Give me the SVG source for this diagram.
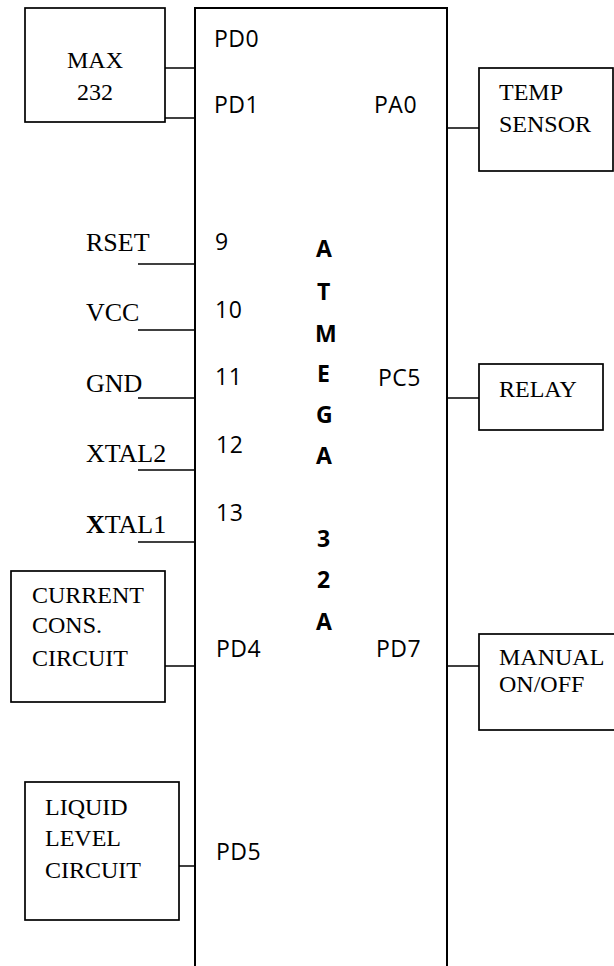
<svg xmlns="http://www.w3.org/2000/svg" width="614" height="966" viewBox="0 0 614 966">
<style>
.box{fill:none;stroke:#000;stroke-width:1.7}
.chip{fill:none;stroke:#000;stroke-width:2}
.wire{stroke:#000;stroke-width:1.5;fill:none}
.t{font-family:"Liberation Serif","Times New Roman",serif;font-size:24px;fill:#000}
.p{font-family:"Liberation Serif","Times New Roman",serif;font-size:26px;fill:#000}
.c{font-family:"Open Sans","Liberation Sans",sans-serif;font-size:23px;letter-spacing:0.5px;fill:#000}
.b{font-family:"Open Sans","Liberation Sans",sans-serif;font-size:23px;font-weight:bold;fill:#000}
</style>
<rect width="614" height="966" fill="#fff"/>
<g id="connectors">
<line class="wire" x1="165" y1="68" x2="195" y2="68"/>
<line class="wire" x1="165" y1="118" x2="195" y2="118"/>
<line class="wire" x1="447" y1="128" x2="479" y2="128"/>
<line class="wire" x1="138" y1="264" x2="195" y2="264"/>
<line class="wire" x1="138" y1="330" x2="195" y2="330"/>
<line class="wire" x1="138" y1="398" x2="195" y2="398"/>
<line class="wire" x1="138" y1="470" x2="195" y2="470"/>
<line class="wire" x1="138" y1="542" x2="195" y2="542"/>
<line class="wire" x1="447" y1="398" x2="479" y2="398"/>
<line class="wire" x1="165" y1="666" x2="195" y2="666"/>
<line class="wire" x1="447" y1="666" x2="479" y2="666"/>
<line class="wire" x1="179" y1="866" x2="195" y2="866"/>
</g>
<g id="chip">
<path class="chip" d="M195,968 V8 H447 V968"/>
<text class="c" x="214" y="47">PD0</text>
<text class="c" x="214" y="113">PD1</text>
<text class="c" x="215" y="250">9</text>
<text class="c" x="215" y="318">10</text>
<text class="c" x="215" y="385">11</text>
<text class="c" x="216" y="453">12</text>
<text class="c" x="216" y="521">13</text>
<text class="c" x="216" y="657">PD4</text>
<text class="c" x="216" y="860">PD5</text>
<text class="c" x="374" y="113">PA0</text>
<text class="c" x="378" y="386">PC5</text>
<text class="c" x="376" y="657">PD7</text>
<text class="b" x="316" y="257">A</text>
<text class="b" x="317" y="300">T</text>
<text class="b" x="315" y="342">M</text>
<text class="b" x="317" y="382">E</text>
<text class="b" x="316" y="423">G</text>
<text class="b" x="316" y="464">A</text>
<text class="b" x="317" y="547">3</text>
<text class="b" x="317" y="588">2</text>
<text class="b" x="316" y="630">A</text>
</g>
<g id="max232">
<rect class="box" x="25" y="8" width="140" height="114"/>
<text class="t" x="95" y="68" text-anchor="middle">MAX</text>
<text class="t" x="95" y="100" text-anchor="middle">232</text>
</g>
<g id="temp-sensor">
<rect class="box" x="479" y="68" width="134" height="103"/>
<text class="t" x="499" y="100">TEMP</text>
<text class="t" x="499" y="132">SENSOR</text>
</g>
<g id="pin-labels">
<text class="p" x="86" y="251">RSET</text>
<text class="p" x="86" y="321">VCC</text>
<text class="p" x="86" y="392">GND</text>
<text class="p" x="86" y="462">XTAL2</text>
<text class="p" x="86" y="533"><tspan font-weight="bold">X</tspan>TAL1</text>
</g>
<g id="relay">
<rect class="box" x="479" y="364" width="124" height="66"/>
<text class="t" x="499" y="397">RELAY</text>
</g>
<g id="current-circuit">
<rect class="box" x="11" y="571" width="154" height="131"/>
<text class="t" x="32" y="603">CURRENT</text>
<text class="t" x="32" y="633">CONS.</text>
<text class="t" x="32" y="666">CIRCUIT</text>
</g>
<g id="manual">
<rect class="box" x="479" y="634" width="140" height="96"/>
<text class="t" x="499" y="665" font-size="21">MANUAL</text>
<text class="t" x="499" y="692" font-size="21">ON/OFF</text>
</g>
<g id="liquid-level">
<rect class="box" x="25" y="782" width="154" height="138"/>
<text class="t" x="45" y="815">LIQUID</text>
<text class="t" x="45" y="846">LEVEL</text>
<text class="t" x="45" y="878">CIRCUIT</text>
</g>
</svg>
